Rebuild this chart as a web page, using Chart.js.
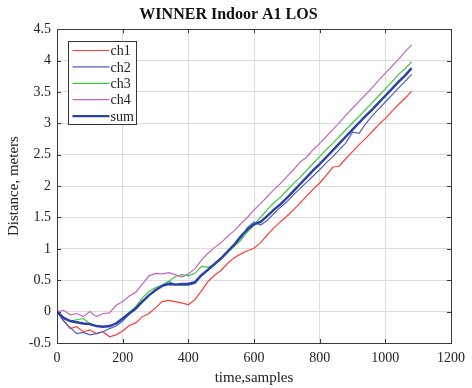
<!DOCTYPE html>
<html>
<head>
<meta charset="utf-8">
<script src="https://cdn.jsdelivr.net/npm/chart.js@4.4.1/dist/chart.umd.min.js"></script>
<style>
  html, body { margin: 0; padding: 0; background: #fff; }
  #wrap { width: 472px; height: 388px; }
</style>
</head>
<body>
<div id="wrap"><canvas id="chart" width="472" height="388"></canvas></div>
<script>
// sample index (x axis)
const samples = [0, 20, 40, 60, 80, 100, 120, 140, 160, 180, 200, 220, 240, 260, 280, 300, 320, 340, 360, 380,
  400, 420, 440, 460, 480, 500, 520, 540, 560, 580, 600, 620, 640, 660, 680, 700, 720, 740, 760, 780,
  800, 820, 840, 860, 880, 900, 920, 940, 960, 980, 1000, 1020, 1040, 1060, 1080];

const ch1 = [0, -0.14, -0.27, -0.24, -0.32, -0.29, -0.35, -0.32, -0.40, -0.37, -0.31, -0.22, -0.18, -0.08, -0.03, 0.06, 0.16, 0.18, 0.16, 0.14,
  0.11, 0.19, 0.33, 0.48, 0.58, 0.66, 0.77, 0.86, 0.92, 0.97, 1.01, 1.10, 1.22, 1.33, 1.43, 1.52, 1.62, 1.73, 1.84, 1.95,
  2.05, 2.17, 2.30, 2.32, 2.44, 2.55, 2.66, 2.76, 2.87, 2.98, 3.08, 3.19, 3.30, 3.40, 3.51];

const ch2 = [0, -0.15, -0.25, -0.35, -0.33, -0.37, -0.35, -0.32, -0.27, -0.23, -0.15, -0.04, 0.08, 0.17, 0.26, 0.35, 0.42, 0.48, 0.43, 0.42,
  0.42, 0.45, 0.57, 0.66, 0.75, 0.84, 0.95, 1.05, 1.17, 1.34, 1.43, 1.38, 1.45, 1.56, 1.66, 1.75, 1.86, 1.96, 2.06, 2.16,
  2.26, 2.37, 2.47, 2.58, 2.69, 2.86, 2.84, 2.99, 3.12, 3.23, 3.34, 3.45, 3.56, 3.67, 3.78];

const ch3 = [0, -0.09, -0.15, -0.13, -0.11, -0.19, -0.23, -0.24, -0.24, -0.19, -0.10, -0.01, 0.08, 0.22, 0.32, 0.38, 0.42, 0.48, 0.56, 0.59,
  0.57, 0.61, 0.72, 0.71, 0.74, 0.85, 0.95, 1.04, 1.14, 1.27, 1.38, 1.50, 1.62, 1.73, 1.82, 1.93, 2.04, 2.14, 2.25, 2.36,
  2.47, 2.58, 2.68, 2.79, 2.90, 3.01, 3.11, 3.22, 3.33, 3.44, 3.55, 3.66, 3.78, 3.87, 3.98];

const ch4 = [0, 0.02, -0.05, -0.03, -0.08, 0.0, -0.08, -0.03, -0.02, 0.10, 0.16, 0.25, 0.31, 0.44, 0.57, 0.61, 0.60, 0.62, 0.59, 0.55,
  0.60, 0.68, 0.82, 0.93, 1.02, 1.10, 1.20, 1.29, 1.40, 1.50, 1.62, 1.72, 1.83, 1.94, 2.04, 2.15, 2.26, 2.38, 2.46, 2.58,
  2.68, 2.79, 2.90, 3.01, 3.13, 3.24, 3.35, 3.46, 3.57, 3.69, 3.80, 3.91, 4.02, 4.14, 4.25];

const sum = [0, -0.10, -0.15, -0.17, -0.19, -0.20, -0.23, -0.24, -0.23, -0.19, -0.11, -0.03, 0.05, 0.16, 0.26, 0.34, 0.41, 0.44, 0.43, 0.44,
  0.44, 0.47, 0.58, 0.67, 0.76, 0.85, 0.96, 1.07, 1.20, 1.31, 1.39, 1.43, 1.52, 1.62, 1.71, 1.81, 1.92, 2.03, 2.14, 2.25,
  2.35, 2.46, 2.57, 2.68, 2.79, 2.90, 3.01, 3.12, 3.22, 3.33, 3.44, 3.55, 3.66, 3.76, 3.88];

const seriesNames = ['ch1', 'ch2', 'ch3', 'ch4', 'sum'];
const xTicks = [0, 200, 400, 600, 800, 1000, 1200];
const yTicks = [-0.5, 0, 0.5, 1, 1.5, 2, 2.5, 3, 3.5, 4, 4.5];

const SERIF = '"Liberation Serif", "DejaVu Serif", serif';

function pts(ys) {
  return samples.map((x, i) => ({ x: x, y: ys[i] }));
}

// box around the axes, inward ticks, legend in top-left corner
const matlabFrame = {
  id: 'matlabFrame',
  afterDraw(chart) {
    const ctx = chart.ctx;
    const a = chart.chartArea;
    const xs = chart.scales.x, ys = chart.scales.y;
    ctx.save();
    ctx.strokeStyle = '#3a3a3a';
    ctx.lineWidth = 1;
    ctx.beginPath();
    xTicks.forEach(v => {
      const px = Math.round(xs.getPixelForValue(v)) + 0.5;
      ctx.moveTo(px, a.bottom); ctx.lineTo(px, a.bottom - 4);
      ctx.moveTo(px, a.top); ctx.lineTo(px, a.top + 4);
    });
    yTicks.forEach(v => {
      const py = Math.round(ys.getPixelForValue(v)) + 0.5;
      ctx.moveTo(a.left, py); ctx.lineTo(a.left + 4, py);
      ctx.moveTo(a.right, py); ctx.lineTo(a.right - 4, py);
    });
    ctx.stroke();
    ctx.strokeRect(Math.round(a.left) + 0.5, Math.round(a.top) + 0.5,
      Math.round(a.right - a.left), Math.round(a.bottom - a.top));

    // legend
    const lx = 68.5, ly = 41.5, lw = 68, lh = 83;
    ctx.fillStyle = '#fff';
    ctx.fillRect(lx, ly, lw, lh);
    ctx.strokeStyle = '#333';
    ctx.strokeRect(lx, ly, lw, lh);
    ctx.font = '14px ' + SERIF;
    ctx.textBaseline = 'middle';
    chart.data.datasets.forEach((ds, i) => {
      const y = ly + 9 + i * 16.4;
      ctx.strokeStyle = ds.borderColor;
      ctx.lineWidth = ds.borderWidth;
      ctx.beginPath();
      ctx.moveTo(lx + 4, y); ctx.lineTo(lx + 41, y);
      ctx.stroke();
      ctx.fillStyle = '#222';
      ctx.fillText(ds.label, lx + 42, y + 1);
    });
    ctx.restore();
  }
};

const colors = ['#ff3b3b', '#4b5fc0', '#3ec43e', '#c067c0', '#2b40a6'];
const widths = [1.2, 1.2, 1.2, 1.2, 2.4];
const allSeries = [ch1, ch2, ch3, ch4, sum];

new Chart(document.getElementById('chart'), {
  type: 'line',
  data: {
    datasets: allSeries.map((s, i) => ({
      label: seriesNames[i],
      data: pts(s),
      borderColor: colors[i],
      borderWidth: widths[i],
      pointRadius: 0,
      tension: 0,
      fill: false,
      order: i === 4 ? 0 : 5 - i
    }))
  },
  options: {
    responsive: false,
    animation: false,
    layout: { padding: { left: 0, right: 15, top: 0, bottom: 0 } },
    plugins: {
      legend: { display: false },
      tooltip: { enabled: false },
      title: {
        display: true,
        text: 'WINNER Indoor A1 LOS',
        color: '#111',
        font: { family: SERIF, size: 16, weight: 'bold' },
        padding: { top: 5, bottom: 5 }
      }
    },
    scales: {
      x: {
        type: 'linear',
        min: 0, max: 1200,
        afterBuildTicks: s => { s.ticks = xTicks.map(v => ({ value: v })); },
        afterFit: s => { s.height = 45; },
        grid: { color: '#dcdcdc', drawTicks: false },
        border: { display: false },
        ticks: { color: '#222', padding: 7, font: { family: SERIF, size: 14 },
          callback: v => String(v) },
        title: { display: true, text: 'time,samples', color: '#222',
          font: { family: SERIF, size: 15 }, padding: { top: 1, bottom: 1 } }
      },
      y: {
        type: 'linear',
        min: -0.5, max: 4.5,
        afterBuildTicks: s => { s.ticks = yTicks.map(v => ({ value: v })); },
        afterFit: s => { s.width = 57; },
        grid: { color: '#dcdcdc', drawTicks: false },
        border: { display: false },
        ticks: { color: '#222', padding: 6, font: { family: SERIF, size: 14 },
          callback: v => String(v) },
        title: { display: true, text: 'Distance, meters', color: '#222',
          font: { family: SERIF, size: 15 }, padding: { top: 5, bottom: 0 } }
      }
    }
  },
  plugins: [matlabFrame]
});
</script>
</body>
</html>
